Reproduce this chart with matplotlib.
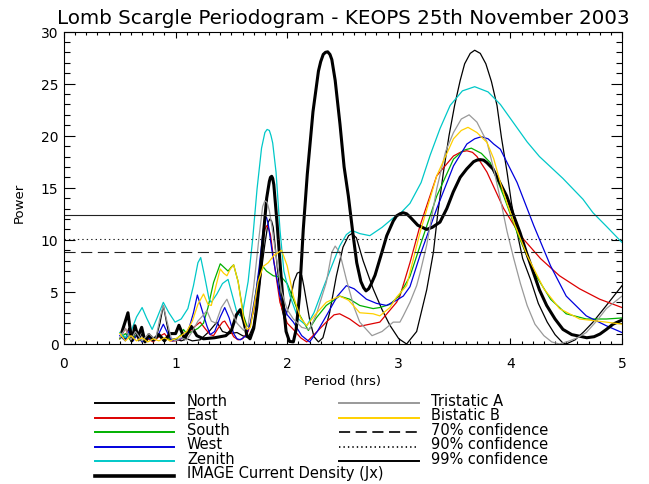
import matplotlib
matplotlib.use("Agg")
import matplotlib.pyplot as plt
from matplotlib.lines import Line2D
from matplotlib.ticker import MultipleLocator

# ---- data (period in hrs, Lomb-Scargle power) ----
per_north = [0.52, 0.55, 0.58, 0.61, 0.64, 0.67, 0.70, 0.74, 0.78, 0.82, 0.86, 0.89, 0.92, 0.95,
             1.00, 1.05, 1.10, 1.15, 1.22, 1.30, 1.37, 1.42, 1.48, 1.55, 1.60, 1.65, 1.70, 1.75,
             1.80, 1.83, 1.845, 1.86, 1.875, 1.91, 1.95, 1.975, 2.02, 2.06, 2.09, 2.11, 2.13, 2.15,
             2.20, 2.24, 2.28, 2.32, 2.38, 2.44, 2.50, 2.55, 2.58, 2.62, 2.68, 2.74, 2.77, 2.85,
             2.92, 3.00, 3.07, 3.16, 3.25, 3.31, 3.35, 3.40, 3.45, 3.50, 3.55, 3.59, 3.64, 3.68,
             3.73, 3.78, 3.83, 3.88, 3.92, 3.97, 4.01, 4.06, 4.11, 4.18, 4.25, 4.33, 4.40, 4.47,
             4.50, 4.58, 4.66, 4.74, 4.86, 5.0]
pow_north = [1.0, 0.4, 1.5, 0.5, 1.2, 0.3, 1.0, 0.3, 0.8, 0.4, 2.0, 3.7, 2.0, 0.4,
             0.5, 0.3, 0.5, 0.3, 0.4, 1.2, 2.1, 1.2, 1.0, 1.1, 0.8, 0.6, 1.8, 5.5,
             9.6, 11.7, 12.0, 11.8, 11.2, 7.5, 3.5, 2.4, 3.8, 6.0, 6.8, 6.9, 6.6, 5.5,
             2.4, 0.7, 0.2, 0.6, 3.0, 6.5, 9.3, 10.4, 10.6, 10.2, 8.0, 6.2, 5.3, 3.3,
             1.8, 0.5, 0.0, 1.2, 5.2, 8.8, 12.6, 16.5, 20.0, 22.9, 25.3, 26.9, 27.9, 28.2,
             27.9, 26.9, 25.2, 22.9, 19.8, 16.5, 13.5, 10.7, 8.2, 6.2, 3.9, 2.1, 0.9, 0.1,
             0.0, 0.4, 1.2, 2.1, 3.7, 5.6]

per_east = [0.50, 0.55, 0.60, 0.65, 0.70, 0.75, 0.80, 0.85, 0.90, 0.95, 1.00, 1.05, 1.10, 1.15,
            1.22, 1.27, 1.31, 1.34, 1.38, 1.42, 1.44, 1.48, 1.52, 1.56, 1.60, 1.65, 1.70, 1.75,
            1.78, 1.80, 1.815, 1.83, 1.85, 1.88, 1.935, 2.00, 2.055, 2.12, 2.175, 2.25, 2.35,
            2.42, 2.47, 2.56, 2.65, 2.83, 2.98, 3.01, 3.10, 3.19, 3.34, 3.49, 3.56, 3.61, 3.66,
            3.70, 3.79, 3.94, 4.09, 4.27, 4.44, 4.62, 4.80, 5.0]
pow_east = [0.5, 1.5, 0.3, 0.8, 0.2, 0.5, 0.2, 0.7, 1.0, 0.3, 0.3, 0.5, 0.8, 1.5,
            2.1, 1.4, 0.9, 0.8, 1.5, 2.1, 2.2, 1.5, 0.7, 0.4, 0.5, 1.2, 3.2, 7.0,
            9.7, 11.0, 11.35, 11.2, 10.5, 8.0, 4.0, 2.0, 1.4, 0.6, 0.2, 1.0, 2.1,
            2.8, 2.9, 2.4, 1.7, 2.1, 4.0, 4.6, 7.8, 11.35, 16.15, 18.05, 18.45, 18.55, 18.4,
            18.0, 16.5, 13.0, 10.4, 8.2, 6.55, 5.3, 4.3, 3.5]

per_south = [0.50, 0.55, 0.60, 0.65, 0.70, 0.75, 0.80, 0.85, 0.90, 0.95, 1.00, 1.05, 1.07, 1.10,
             1.15, 1.20, 1.25, 1.29, 1.34, 1.40, 1.44, 1.47, 1.50, 1.52, 1.56, 1.61, 1.64, 1.67,
             1.70, 1.74, 1.785, 1.815, 1.875, 1.95, 2.00, 2.055, 2.10, 2.19, 2.26, 2.35, 2.47,
             2.56, 2.65, 2.77, 2.83, 2.92, 3.00, 3.10, 3.19, 3.34, 3.49, 3.58, 3.65, 3.74, 3.82,
             3.94, 4.06, 4.21, 4.36, 4.50, 4.68, 4.86, 5.0]
pow_south = [0.5, 1.0, 0.3, 0.9, 0.2, 0.6, 0.3, 0.8, 0.4, 0.5, 0.4, 0.9, 1.4, 1.0,
             1.2, 1.5, 2.0, 3.5, 5.9, 7.7, 7.3, 7.0, 7.4, 7.6, 6.0, 2.7, 1.7, 1.8,
             3.5, 6.5, 7.4, 7.0, 6.55, 6.4, 5.8, 4.3, 3.0, 1.3, 2.5, 3.7, 4.6,
             4.3, 3.7, 3.4, 3.5, 3.8, 4.6, 6.5, 9.4, 14.2, 17.75, 18.6, 18.8, 18.3, 17.4,
             14.2, 10.7, 6.9, 4.3, 2.9, 2.4, 2.4, 2.5]

per_west = [0.50, 0.55, 0.58, 0.62, 0.66, 0.70, 0.75, 0.80, 0.85, 0.89, 0.93, 0.97, 1.02, 1.07,
            1.12, 1.16, 1.195, 1.23, 1.28, 1.31, 1.35, 1.40, 1.44, 1.48, 1.52, 1.55, 1.58, 1.63,
            1.67, 1.72, 1.75, 1.78, 1.80, 1.815, 1.83, 1.87, 1.935, 2.00, 2.055, 2.13, 2.20, 2.27,
            2.35, 2.45, 2.53, 2.60, 2.71, 2.80, 2.89, 2.98, 3.04, 3.10, 3.19, 3.34, 3.49, 3.61,
            3.68, 3.74, 3.80, 3.85, 3.91, 4.06, 4.21, 4.36, 4.50, 4.68, 4.86, 5.0]
pow_west = [0.8, 0.3, 1.2, 0.3, 1.0, 0.2, 0.6, 0.3, 1.0, 1.9, 1.0, 0.3, 0.4, 0.6,
            1.5, 3.0, 4.7, 3.5, 1.75, 0.9, 1.2, 2.6, 3.5, 2.5, 1.0, 0.5, 0.4, 0.8,
            2.0, 5.0, 7.5, 10.5, 12.0, 12.15, 11.5, 8.5, 4.6, 2.8, 2.1, 0.8, 0.2, 1.2,
            2.7, 4.6, 5.6, 5.3, 4.3, 3.9, 3.7, 4.2, 4.6, 5.5, 8.5, 13.0, 17.1, 19.2,
            19.7, 19.9, 19.7, 19.2, 18.7, 15.5, 11.35, 7.5, 4.6, 2.7, 1.75, 1.1]

per_zenith = [0.50, 0.55, 0.60, 0.65, 0.70, 0.74, 0.79, 0.83, 0.89, 0.94, 0.995, 1.05, 1.11, 1.16,
              1.20, 1.225, 1.26, 1.30, 1.32, 1.37, 1.42, 1.47, 1.50, 1.55, 1.58, 1.60, 1.65, 1.69,
              1.73, 1.77, 1.80, 1.82, 1.84, 1.855, 1.87, 1.90, 1.935, 1.97, 2.025, 2.10, 2.175,
              2.24, 2.32, 2.40, 2.47, 2.53, 2.58, 2.65, 2.74, 2.85, 2.95, 3.01, 3.10, 3.20, 3.28,
              3.37, 3.46, 3.57, 3.68, 3.80, 3.91, 4.03, 4.15, 4.26, 4.38, 4.47, 4.56, 4.65, 4.74,
              4.86, 5.0]
pow_zenith = [1.1, 0.6, 1.2, 2.6, 3.5, 2.5, 1.4, 2.4, 4.0, 3.0, 2.1, 2.4, 3.4, 5.6,
              7.8, 8.3, 6.5, 4.3, 4.0, 4.8, 5.8, 6.2, 5.0, 3.0, 2.7, 3.0, 6.0, 10.0,
              14.9, 18.8, 20.3, 20.6, 20.5, 20.0, 19.3, 16.5, 11.0, 7.0, 4.6, 2.4, 1.75,
              3.0, 5.3, 7.5, 9.4, 10.5, 10.9, 10.6, 10.4, 11.2, 12.1, 12.5, 13.5, 15.5, 18.1,
              20.7, 22.9, 24.3, 24.7, 24.2, 23.0, 21.2, 19.4, 18.0, 16.8, 15.9, 14.9, 13.9, 12.6,
              11.3, 9.75]

per_image = [0.52, 0.547, 0.573, 0.607, 0.636, 0.663, 0.696, 0.726, 0.76, 0.80, 0.85, 0.90, 0.95,
             1.00, 1.03, 1.08, 1.14, 1.19, 1.25, 1.35, 1.45, 1.50, 1.545, 1.58, 1.61, 1.64, 1.667,
             1.70, 1.727, 1.756, 1.786, 1.816, 1.84, 1.85, 1.861, 1.87, 1.88, 1.91, 1.935, 1.965,
             1.99, 2.02, 2.055, 2.08, 2.11, 2.144, 2.18, 2.231, 2.28, 2.30, 2.323, 2.343, 2.363,
             2.383, 2.40, 2.43, 2.473, 2.51, 2.548, 2.59, 2.623, 2.66, 2.685, 2.706, 2.73, 2.75,
             2.787, 2.84, 2.892, 2.95, 2.98, 3.011, 3.04, 3.07, 3.10, 3.17, 3.25, 3.30, 3.369,
             3.43, 3.488, 3.55, 3.608, 3.67, 3.70, 3.728, 3.76, 3.79, 3.844, 3.90, 3.967, 4.03,
             4.086, 4.14, 4.205, 4.26, 4.325, 4.40, 4.471, 4.55, 4.624, 4.684, 4.75, 4.803, 4.86,
             4.919, 5.0]
pow_image = [1.2, 2.1, 3.0, 0.3, 1.75, 0.7, 1.6, 0.2, 0.9, 0.4, 0.9, 0.3, 1.0,
             1.0, 1.8, 0.5, 1.7, 0.8, 0.5, 0.6, 0.8, 1.3, 2.8, 3.3, 2.2, 0.8, 0.5,
             1.5, 3.5, 6.5, 10.4, 14.0, 15.6, 16.0, 16.1, 15.9, 15.3, 11.5, 7.9, 3.8,
             1.2, 0.25, 0.2, 1.4, 4.6, 11.0, 16.3, 22.3, 26.2, 27.1, 27.8, 28.0, 28.05,
             27.8, 27.3, 25.3, 21.1, 17.0, 14.2, 10.5, 7.8, 6.0, 5.4, 5.1, 5.3, 5.7,
             6.6, 8.5, 10.4, 11.8, 12.3, 12.5, 12.6, 12.5, 12.2, 11.4, 11.0, 11.2, 11.7,
             13.0, 14.6, 16.0, 16.8, 17.5, 17.65, 17.7, 17.65, 17.4, 16.8, 15.6, 14.2, 12.3,
             10.7, 8.9, 6.9, 5.2, 3.7, 2.4, 1.4, 0.9, 0.74, 0.6, 0.7, 0.96, 1.4,
             1.9, 2.3]

per_tri = [0.50, 0.55, 0.60, 0.64, 0.70, 0.76, 0.82, 0.86, 0.89, 0.92, 0.96, 1.00, 1.05, 1.10,
           1.15, 1.20, 1.25, 1.28, 1.32, 1.36, 1.41, 1.46, 1.50, 1.55, 1.61, 1.65, 1.70, 1.75,
           1.78, 1.80, 1.82, 1.84, 1.86, 1.90, 1.95, 2.00, 2.055, 2.13, 2.20, 2.26, 2.35, 2.40,
           2.43, 2.47, 2.53, 2.60, 2.65, 2.76, 2.85, 2.95, 3.01, 3.04, 3.10, 3.16, 3.19, 3.25,
           3.34, 3.42, 3.49, 3.56, 3.63, 3.70, 3.79, 3.85, 3.91, 3.97, 4.03, 4.09, 4.15, 4.22,
           4.30, 4.37, 4.44, 4.53, 4.60, 4.68, 4.78, 4.86, 5.0]
pow_tri = [0.6, 1.5, 0.4, 1.2, 0.3, 1.0, 0.4, 2.5, 3.7, 2.3, 0.6, 0.3, 0.6, 0.4,
           1.2, 2.2, 2.8, 3.2, 2.2, 2.0, 3.5, 4.3, 3.2, 2.0, 1.3, 1.8, 5.5, 10.5,
           13.2, 13.75, 13.6, 12.8, 11.5, 8.5, 5.0, 3.3, 2.4, 1.6, 1.4, 2.8, 5.9, 8.8,
           9.4, 8.8, 6.2, 3.5, 2.1, 0.8, 1.2, 2.1, 2.1, 2.7, 4.0, 5.6, 6.8, 9.5,
           14.9, 18.5, 20.3, 21.6, 22.0, 21.3, 19.4, 16.8, 13.9, 10.8, 8.2, 5.8, 3.7, 1.9,
           0.8, 0.2, 0.0, 0.3, 0.6, 1.1, 2.3, 3.4, 4.6]

per_bi = [0.50, 0.55, 0.60, 0.65, 0.70, 0.75, 0.80, 0.85, 0.90, 0.95, 1.00, 1.05, 1.10, 1.15,
          1.20, 1.25, 1.29, 1.32, 1.36, 1.40, 1.43, 1.46, 1.49, 1.52, 1.56, 1.61, 1.64, 1.67,
          1.70, 1.74, 1.785, 1.83, 1.88, 1.95, 2.00, 2.055, 2.12, 2.175, 2.25, 2.35, 2.47, 2.55,
          2.65, 2.77, 2.83, 2.92, 2.98, 3.07, 3.19, 3.34, 3.49, 3.56, 3.62, 3.70, 3.79, 3.85,
          3.91, 3.97, 4.03, 4.15, 4.30, 4.44, 4.62, 4.86, 5.0]
pow_bi = [1.0, 0.3, 0.8, 0.3, 0.6, 0.2, 0.5, 0.3, 0.6, 0.3, 0.5, 0.8, 1.2, 2.2,
          3.8, 4.8, 3.8, 3.7, 5.5, 7.2, 6.8, 6.55, 7.2, 7.6, 6.0, 2.4, 1.4, 1.6,
          3.5, 6.0, 7.45, 7.8, 8.5, 9.0, 7.5, 4.6, 2.5, 1.75, 2.8, 4.0, 4.6, 4.2,
          3.0, 2.9, 2.7, 3.5, 4.5, 5.6, 10.7, 16.15, 19.7, 20.5, 20.8, 20.3, 19.35, 17.8,
          15.5, 13.5, 11.7, 8.5, 5.3, 3.4, 2.4, 2.1, 1.9]

conf_levels = [8.85, 10.05, 12.4]
conf_labels = ["70% confidence", "90% confidence", "99% confidence"]

plt.rcParams["font.family"] = ["DejaVu Sans"]
plt.rcParams["lines.scale_dashes"] = False

fig = plt.figure(figsize=(6.49, 4.85), dpi=100)
ax = fig.add_axes([64 / 649, 1 - 345 / 485, 558 / 649, 312.5 / 485])

series = [
    ("North", per_north, pow_north, "black", 0.9, "-"),
    ("East", per_east, pow_east, "#dd0000", 0.9, "-"),
    ("South", per_south, pow_south, "#00b000", 0.9, "-"),
    ("West", per_west, pow_west, "#0000dd", 0.9, "-"),
    ("Zenith", per_zenith, pow_zenith, "#00c8c8", 0.9, "-"),
    ("IMAGE Current Density (Jx)", per_image, pow_image, "black", 2.2, "-"),
    ("Tristatic A", per_tri, pow_tri, "#999999", 0.9, "-"),
    ("Bistatic B", per_bi, pow_bi, "#ffd000", 0.9, "-"),
]
for name, px, py, col, lw, ls in series:
    ax.plot(px, py, color=col, lw=lw, ls=ls, solid_joinstyle="round")

conf_styles = [(0, (8, 4)), (0, (1, 2.2)), "-"]
for lev, st in zip(conf_levels, conf_styles):
    ax.axhline(lev, color="#222222", lw=0.8, ls=st)

ax.set_xlim(0, 5)
ax.set_ylim(0, 30)
ax.xaxis.set_major_locator(MultipleLocator(1))
ax.xaxis.set_minor_locator(MultipleLocator(0.1))
ax.yaxis.set_major_locator(MultipleLocator(5))
ax.yaxis.set_minor_locator(MultipleLocator(1))
ax.tick_params(which="both", direction="in", top=True, right=True, width=0.8, labelsize=10)
ax.tick_params(axis="x", which="major", length=4.5, pad=8.5)
ax.tick_params(axis="x", which="minor", length=2.3)
ax.tick_params(axis="y", which="major", length=8, pad=4)
ax.tick_params(axis="y", which="minor", length=4)
for s in ax.spines.values():
    s.set_linewidth(0.8)

ax.set_title("Lomb Scargle Periodogram - KEOPS 25th November 2003", fontsize=14.3, pad=6)
ax.set_xlabel("Period (hrs)", fontsize=9.5)
ax.xaxis.set_label_coords(0.5, -0.095)
ax.set_ylabel("Power", fontsize=9.5)
ax.yaxis.set_label_coords(-0.068, 0.454)

# legend drawn below the plot, two columns like the original
entries_left = series[:6]
entries_right = series[6:]
row0, drow = 404, 14.6
for i, (name, _, _, col, lw, ls) in enumerate(entries_left):
    y = 1 - (row0 + i * drow) / 485
    fig.add_artist(Line2D([95 / 649, 174 / 649], [y, y], color=col, lw=1.4 if lw < 2 else 2.6,
                          transform=fig.transFigure))
    fig.text(187 / 649, y + 3 / 485, name, fontsize=10.5, va="center", ha="left")
right_items = [(n, c, l, s) for n, _, _, c, l, s in entries_right]
right_items += [(lab, "black", 1.2, st) for lab, st in zip(conf_labels, conf_styles)]
for i, (name, col, lw, ls) in enumerate(right_items):
    y = 1 - (row0 + i * drow) / 485
    fig.add_artist(Line2D([339 / 649, 419 / 649], [y, y], color=col, lw=1.4 if ls == "-" else 1.2,
                          ls=ls, transform=fig.transFigure))
    fig.text(431 / 649, y + 3 / 485, name, fontsize=10.5, va="center", ha="left")

fig.savefig("out.png", dpi=100)
